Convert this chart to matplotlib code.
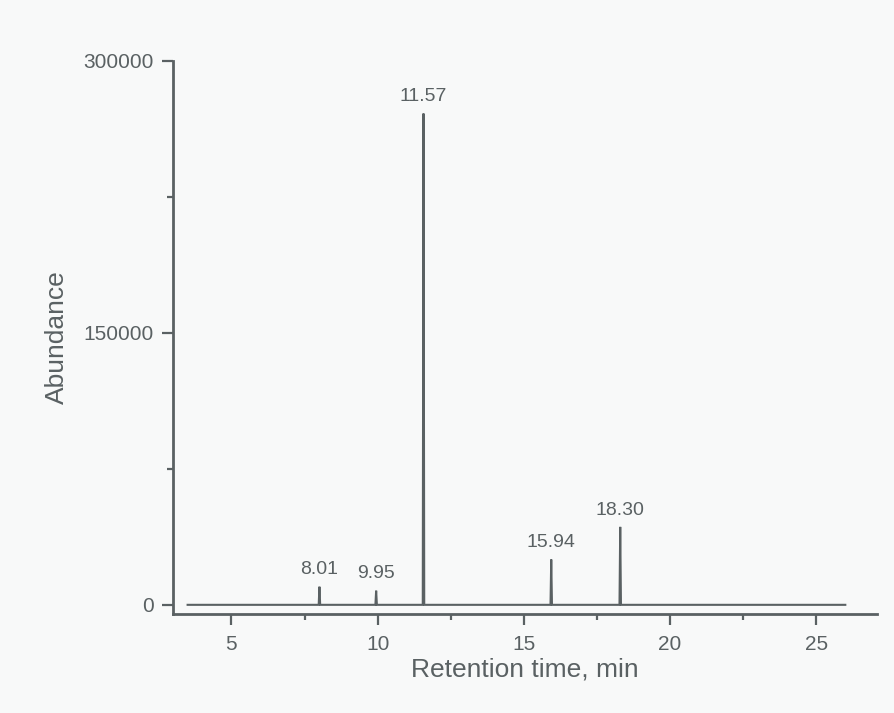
import matplotlib
matplotlib.use("Agg")
import matplotlib.pyplot as plt
import numpy as np
from matplotlib.ticker import MultipleLocator

# --- DATA ---
rt_start, rt_end = 3.5, 26.0
peak_times = [8.01, 9.95, 11.57, 15.94, 18.30]
peak_heights = [10000, 7800, 271000, 25000, 43000]
peak_labels = ["8.01", "9.95", "11.57", "15.94", "18.30"]
peak_halfwidth = 0.025

# build the trace: flat baseline with a narrow triangle for each peak
xs = [rt_start]
ys = [0]
for t, h in zip(peak_times, peak_heights):
    xs += [t - peak_halfwidth, t, t + peak_halfwidth]
    ys += [0, h, 0]
xs.append(rt_end)
ys.append(0)

C_INK = "#5a6163"
C_BG = "#f8f9f9"

plt.rcParams['font.family'] = ['Liberation Sans', 'DejaVu Sans']

fig = plt.figure(figsize=(8.94, 7.13), dpi=100, facecolor=C_BG)
ax = fig.add_axes([0.1935, 0.139, 0.788, 0.7755])
ax.set_facecolor(C_BG)

ax.plot(xs, ys, color=C_INK, linewidth=1.5, solid_joinstyle='miter')

for t, h, lab in zip(peak_times, peak_heights, peak_labels):
    ax.annotate(lab, (t, h), xytext=(0, 6), textcoords='offset points',
                ha='center', va='bottom', fontsize=14, color=C_INK)

ax.set_xlim(3.0, 27.1)
ax.set_ylim(-5000, 300000)

ax.set_xticks([5, 10, 15, 20, 25])
ax.xaxis.set_minor_locator(MultipleLocator(2.5))
ax.set_yticks([0, 150000, 300000])
ax.yaxis.set_minor_locator(MultipleLocator(75000))

ax.tick_params(which='major', direction='out', length=8, width=1.6,
               colors=C_INK, labelsize=15, pad=6)
ax.tick_params(which='minor', direction='out', length=4, width=1.6, colors=C_INK)
ax.tick_params(axis='x', which='major', pad=7)

ax.set_xlabel("Retention time, min", fontsize=19, color=C_INK, labelpad=3)
ax.set_ylabel("Abundance", fontsize=19, color=C_INK, labelpad=10)

for side in ['top', 'right']:
    ax.spines[side].set_visible(False)
for side in ['left', 'bottom']:
    ax.spines[side].set_color(C_INK)
    ax.spines[side].set_linewidth(2)

fig.savefig("out.png", dpi=100, facecolor=C_BG)
